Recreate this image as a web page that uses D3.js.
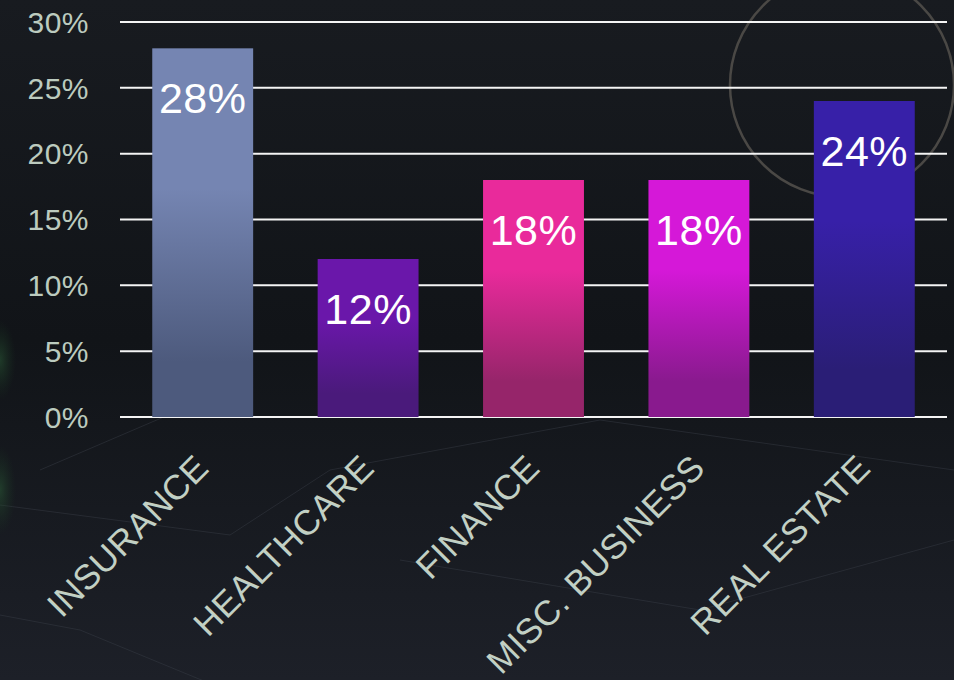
<!DOCTYPE html>
<html>
<head>
<meta charset="utf-8">
<script src="https://cdn.jsdelivr.net/npm/d3@7"></script>
<style>
  html, body { margin: 0; padding: 0; background: #14171c; }
  svg { display: block; }
</style>
</head>
<body>
<div id="chart"></div>
<script>
// Chart data
const categories = ['INSURANCE', 'HEALTHCARE', 'FINANCE', 'MISC. BUSINESS', 'REAL ESTATE'];
const shares = [28, 12, 18, 18, 24];
const yTicks = [0, 5, 10, 15, 20, 25, 30];

// Bar colours (top, bottom)
const topColors = ['#7585b2', '#6a17aa', '#e92a9b', '#d518d8', '#3720a8'];
const bottomColors = ['#4d5a7d', '#4a1a7b', '#96256a', '#891a8e', '#2a1e76'];

const width = 954;
const height = 680;
const margin = { top: 22, right: 7, bottom: 263, left: 120 };
const font = '"Liberation Sans", Arial, Helvetica, sans-serif';

const svg = d3.select('#chart')
    .append('svg')
    .attr('width', width)
    .attr('height', height);

const defs = svg.append('defs');

// Background
const bg = defs.append('linearGradient')
    .attr('id', 'bg')
    .attr('x1', 0).attr('y1', 0).attr('x2', 0).attr('y2', 1);
bg.append('stop').attr('offset', '0%').attr('stop-color', '#181b20');
bg.append('stop').attr('offset', '50%').attr('stop-color', '#111418');
bg.append('stop').attr('offset', '100%').attr('stop-color', '#1d2028');

const glow = defs.append('radialGradient').attr('id', 'glow');
glow.append('stop').attr('offset', '0%').attr('stop-color', '#2a5a36').attr('stop-opacity', 0.55);
glow.append('stop').attr('offset', '100%').attr('stop-color', '#1a3a22').attr('stop-opacity', 0);

svg.append('rect')
    .attr('width', width)
    .attr('height', height)
    .attr('fill', 'url(#bg)');

// faint city lines
const deco = svg.append('g')
    .attr('stroke', '#3a3f48')
    .attr('stroke-width', 1)
    .attr('fill', 'none')
    .attr('opacity', 0.45);
deco.append('path').attr('d', 'M0,505 L230,535 L330,470 L600,420');
deco.append('path').attr('d', 'M0,615 L80,630 L250,700');
deco.append('path').attr('d', 'M400,560 L700,610 L954,540');
deco.append('path').attr('d', 'M600,420 L954,470');
deco.append('path').attr('d', 'M250,380 L40,470');

svg.append('ellipse')
    .attr('cx', 0).attr('cy', 360).attr('rx', 16).attr('ry', 40)
    .attr('fill', 'url(#glow)');
svg.append('ellipse')
    .attr('cx', 0).attr('cy', 490).attr('rx', 16).attr('ry', 45)
    .attr('fill', 'url(#glow)');

svg.append('circle')
    .attr('cx', 842).attr('cy', 85).attr('r', 112)
    .attr('fill', 'none')
    .attr('stroke', '#4a4845')
    .attr('stroke-width', 2.5);

// Scales
const x = d3.scaleBand()
    .domain(categories)
    .range([margin.left, width - margin.right])
    .paddingInner(0.39)
    .paddingOuter(0.195);

const y = d3.scaleLinear()
    .domain([0, 30])
    .range([height - margin.bottom, margin.top]);

// Gridlines
svg.append('g')
    .selectAll('line')
    .data(yTicks)
    .enter()
    .append('line')
    .attr('x1', margin.left)
    .attr('x2', width - margin.right)
    .attr('y1', d => y(d))
    .attr('y2', d => y(d))
    .attr('stroke', '#f4f4f4')
    .attr('stroke-width', 2);

// Y axis labels
svg.append('g')
    .selectAll('text')
    .data(yTicks)
    .enter()
    .append('text')
    .attr('x', 89)
    .attr('y', d => y(d))
    .attr('dy', '0.36em')
    .attr('text-anchor', 'end')
    .attr('fill', '#bccbbf')
    .style('font-family', font)
    .style('font-size', '30px')
    .style('letter-spacing', '0.5px')
    .text(d => d + '%');

// Bar gradients
categories.forEach((c, i) => {
    const g = defs.append('linearGradient')
        .attr('id', 'bar' + i)
        .attr('x1', 0).attr('y1', 0).attr('x2', 0).attr('y2', 1);
    g.append('stop').attr('offset', '0%').attr('stop-color', topColors[i]);
    g.append('stop').attr('offset', '38%').attr('stop-color', topColors[i]);
    g.append('stop').attr('offset', '85%').attr('stop-color', bottomColors[i]);
    g.append('stop').attr('offset', '100%').attr('stop-color', bottomColors[i]);
});

// Bars
svg.append('g')
    .selectAll('rect')
    .data(categories)
    .enter()
    .append('rect')
    .attr('x', d => x(d))
    .attr('y', (d, i) => y(shares[i]))
    .attr('width', x.bandwidth())
    .attr('height', (d, i) => y(0) - y(shares[i]))
    .attr('fill', (d, i) => 'url(#bar' + i + ')');

// Value labels
svg.append('g')
    .selectAll('text')
    .data(categories)
    .enter()
    .append('text')
    .attr('x', d => x(d) + x.bandwidth() / 2)
    .attr('y', (d, i) => y(shares[i]) + 65)
    .attr('text-anchor', 'middle')
    .attr('fill', '#ffffff')
    .style('font-family', font)
    .style('font-size', '43px')
    .style('letter-spacing', '0.5px')
    .text((d, i) => shares[i] + '%');

// Category labels
svg.append('g')
    .selectAll('text')
    .data(categories)
    .enter()
    .append('text')
    .attr('transform', d => `translate(${x(d) + x.bandwidth() / 2 + 8}, ${y(0) + 53}) rotate(-45)`)
    .attr('text-anchor', 'end')
    .attr('fill', '#c2d0c4')
    .style('font-family', font)
    .style('font-size', '35px')
    .style('letter-spacing', '0.5px')
    .text(d => d);
</script>
</body>
</html>
